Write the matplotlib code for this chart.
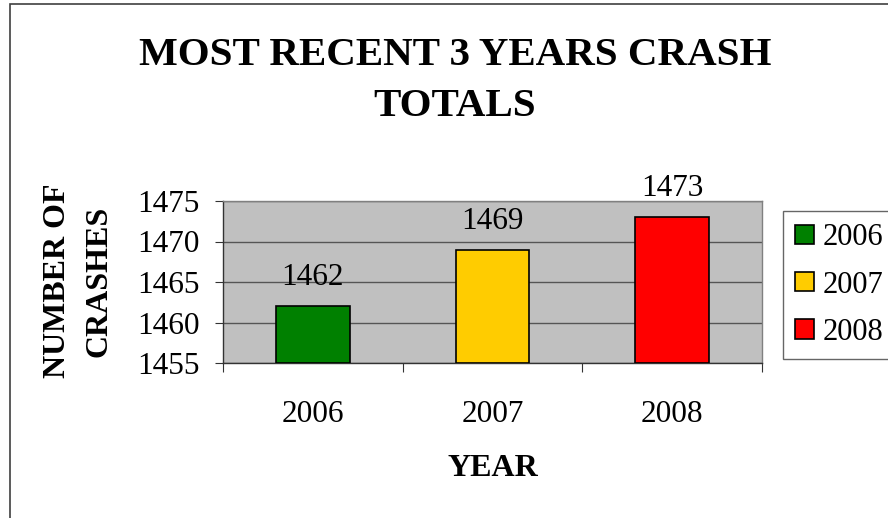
import matplotlib
matplotlib.use("Agg")
import matplotlib.pyplot as plt
from matplotlib.patches import Patch, Rectangle

years = ["2006", "2007", "2008"]
crashes = [1462, 1469, 1473]
colors = ["#008000", "#FFCC00", "#FF0000"]
y_ticks = [1455, 1460, 1465, 1470, 1475]

plt.rcParams["font.family"] = ["Liberation Serif", "DejaVu Serif"]

W, H = 888, 518
fig = plt.figure(figsize=(W / 100, H / 100), dpi=100)

# outer chart border (only left and top visible in the picture)
fig.patches.append(Rectangle((10 / W, -0.5), 2.0, 1.5 - 4 / H, transform=fig.transFigure,
                             fill=False, edgecolor="#404040", linewidth=1.2))

ax = fig.add_axes([223 / W, 1 - 363 / H, (762 - 223) / W, (363 - 201) / H])
ax.set_facecolor("#C0C0C0")

x = list(range(len(years)))
bars = ax.bar(x, [c - 1455 for c in crashes], bottom=1455, width=0.41,
              color=colors, edgecolor="black", linewidth=1.2, zorder=3)

ax.set_xlim(-0.5, 2.5)
ax.set_ylim(1455, 1475)
ax.set_yticks(y_ticks)
ax.yaxis.grid(True, color="#555555", linewidth=1.0, zorder=1)

ax.set_xticks(x)
ax.set_xticklabels(years, fontsize=22.5)
ax.set_xticks([-0.5, 0.5, 1.5, 2.5], minor=True)
ax.tick_params(axis="x", which="major", length=0, pad=27)
ax.tick_params(axis="x", which="minor", length=6.5, color="#333333", width=0.8)
ax.tick_params(axis="y", labelsize=22.5, length=6, color="#333333", width=0.8, pad=11)

for side in ["top", "right"]:
    ax.spines[side].set_color("#808080")
    ax.spines[side].set_linewidth(1.0)
for side in ["left", "bottom"]:
    ax.spines[side].set_color("#333333")
    ax.spines[side].set_linewidth(1.0)

for xi, val in zip(x, crashes):
    ax.annotate(str(val), (xi, val), xytext=(0, 15), textcoords="offset points",
                ha="center", va="baseline", fontsize=22.5)

fig.text(455 / W, 1 - 37 / H, "MOST RECENT 3 YEARS CRASH\nTOTALS", ha="center", va="top",
         fontsize=29.5, fontweight="bold", linespacing=1.5)
fig.text(78 / W, 1 - 281 / H, "NUMBER OF\nCRASHES", ha="center", va="center",
         rotation=90, fontsize=23, fontweight="bold", linespacing=1.55)
fig.text(493 / W, 1 - 468 / H, "YEAR", ha="center", va="center",
         fontsize=23, fontweight="bold")

handles = [Patch(facecolor=c, edgecolor="black", linewidth=1.2) for c in colors]
fig.legend(handles, years, loc="upper left", bbox_to_anchor=(783 / W, 1 - 211 / H),
           fontsize=22, frameon=True, fancybox=False, edgecolor="#404040",
           handlelength=0.6, handleheight=0.6, handletextpad=0.3,
           labelspacing=0.6, borderpad=0.4, borderaxespad=0)

fig.savefig("out.png", dpi=100)
